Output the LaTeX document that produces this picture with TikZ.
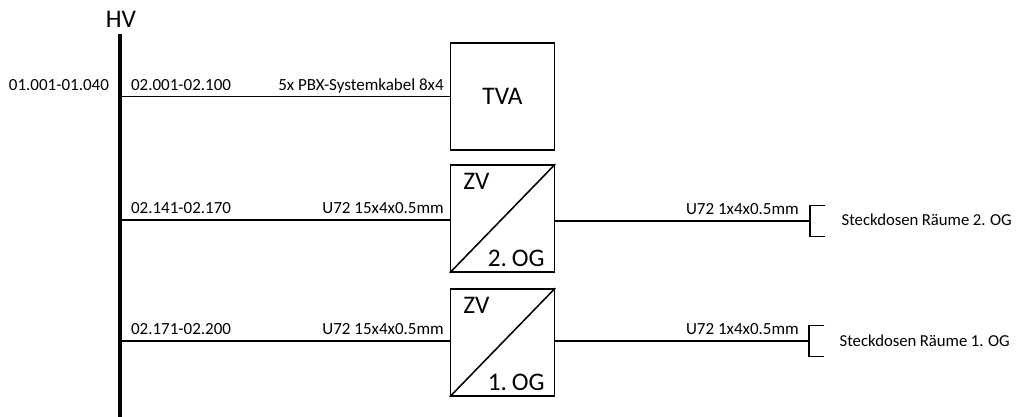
\documentclass[tikz,border=0pt]{standalone}
\usepackage{fontspec}
\setmainfont{Carlito}
\begin{document}
\begin{tikzpicture}[
    box/.style={draw, line width=1.1pt, minimum width=2.6cm, minimum height=2.68cm, inner sep=0pt, fill=white},
    wire/.style={line width=1.1pt},
    lbl/.style={inner sep=0pt, font=\fontsize{12.1}{14}\selectfont},
    stk/.style={inner sep=0pt, font=\fontsize{11.9}{14}\selectfont\spaceskip 0.2em\relax},
    big/.style={inner sep=0pt, font=\fontsize{18}{20}\selectfont\spaceskip 0.12em\relax}
]
\useasboundingbox (0,0) rectangle (25.4,10.425);

% Bus
\coordinate (bustop) at (3,9.575);
\coordinate (busend) at (3,0);
\draw[line width=2.8pt] (bustop) -- (busend);
\node[big, anchor=base] (hv) at (3.025,9.725) {HV};
\node[lbl, anchor=base east] (busno) at (2.73,8.15) {01.001-01.040};

% TVA
\node[box, big] (tva) at (12.5625,8.0125) {TVA};
\draw[wire] (tva.west) -- (tva.west -| bustop);
\node[lbl, anchor=base west] (tvano) at (3.27,8.15) {02.001-02.100};
\node[lbl, anchor=base east] (tvacab) at (11.1,8.15) {5x PBX-Systemkabel 8x4};

% ZV 2. OG
\node[box] (zvb) at (12.5625,4.9625) {};
\draw[wire] (zvb.south west) -- (zvb.north east);
\node[big, anchor=base west] (zvbt) at (11.575,5.675) {ZV};
\node[big, anchor=base east] (zvbo) at (13.625,3.75) {2. OG};
\coordinate (brb) at (20.25,4.9);
\draw[wire] (zvb.west |- 0,4.925) -- (bustop |- 0,4.925);
\draw[wire] (zvb.east |- brb) -- (brb);
\draw[wire] (brb) ++(0.375,0.3875) -- ++(-0.375,0) -- ++(0,-0.775) -- ++(0.375,0);
\node[lbl, anchor=base west] (zvbno) at (3.27,5.08) {02.141-02.170};
\node[lbl, anchor=base east] (zvbcab) at (11.1,5.08) {U72 15x4x0.5mm};
\node[lbl, anchor=base east] (zvbout) at (19.975,5.05) {U72 1x4x0.5mm};
\node[stk, anchor=base east] (stkb) at (25.3,4.775) {Steckdosen Räume 2. OG};

% ZV 1. OG
\node[box] (zva) at (12.5625,1.8625) {};
\draw[wire] (zva.south west) -- (zva.north east);
\node[big, anchor=base west] (zvat) at (11.575,2.575) {ZV};
\node[big, anchor=base east] (zvao) at (13.625,0.65) {1. OG};
\coordinate (bra) at (20.225,1.9);
\draw[wire] (zva.west |- bra) -- (bustop |- bra);
\draw[wire] (zva.east |- bra) -- (bra);
\draw[wire] (bra) ++(0.375,0.3875) -- ++(-0.375,0) -- ++(0,-0.775) -- ++(0.375,0);
\node[lbl, anchor=base west] (zvano) at (3.27,2.07) {02.171-02.200};
\node[lbl, anchor=base east] (zvacab) at (11.1,2.07) {U72 15x4x0.5mm};
\node[lbl, anchor=base east] (zvaout) at (19.975,2.07) {U72 1x4x0.5mm};
\node[stk, anchor=base east] (stka) at (25.25,1.75) {Steckdosen Räume 1. OG};
\end{tikzpicture}
\end{document}
